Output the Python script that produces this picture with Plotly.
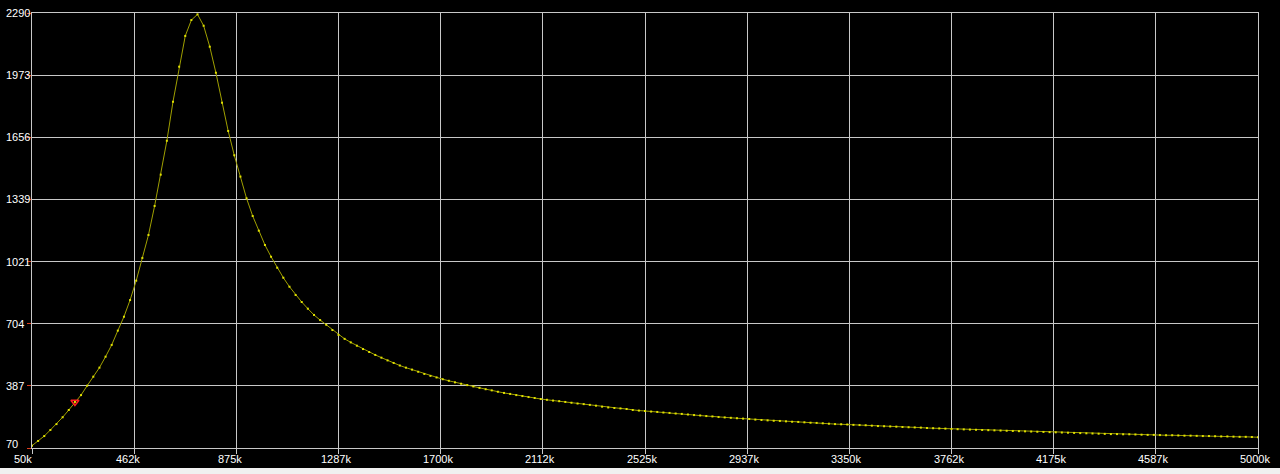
import plotly.graph_objects as go

# Frequency sweep (kHz): start, stop; one reading per sweep step
START_K = 50.0
STOP_K = 5000.0

values = [
    82, 106, 131, 162, 192, 227, 264, 305, 340, 388,
    434, 480, 536, 596, 669, 740, 825, 924, 1040, 1157,
    1305, 1465, 1638, 1837, 2016, 2173, 2254, 2283, 2225, 2118,
    1985, 1832, 1688, 1564, 1455, 1344, 1254, 1179, 1106, 1046,
    990, 939, 893, 851, 815, 781, 749, 723, 699, 672,
    647, 627, 609, 592, 575, 560, 545, 531, 517, 504,
    491, 480, 470, 459, 448, 438, 430, 421, 413, 405,
    398, 391, 384, 377, 370, 364, 357, 351, 346, 340,
    335, 330, 325, 320, 316, 312, 309, 305, 301, 297,
    294, 290, 286, 281, 277, 274, 272, 269, 264, 261,
    259, 256, 254, 251, 249, 246, 244, 241, 238, 236,
    233, 231, 228, 226, 224, 222, 220, 218, 215, 213,
    211, 209, 208, 206, 204, 203, 201, 199, 198, 196,
    194, 192, 191, 190, 188, 187, 186, 184, 182, 181,
    180, 179, 177, 176, 175, 174, 172, 171, 170, 169,
    167, 166, 165, 164, 163, 162, 161, 160, 159, 158,
    157, 156, 155, 154, 153, 152, 151, 150, 149, 148,
    147, 146, 145, 144, 143, 142, 141, 141, 140, 140,
    139, 138, 137, 137, 136, 135, 135, 134, 133, 133,
    132, 131, 131, 130, 129, 129, 128, 127, 127, 126,
    125,
]

n_steps = len(values) - 1
freq_k = [START_K + (STOP_K - START_K) * i / n_steps for i in range(len(values))]

# Cursor marker (sweep step index)
cursor_index = 7

# Axis ticks and labels
x_tickvals = [50, 462.5, 875, 1287.5, 1700, 2112.5, 2525, 2937.5, 3350, 3762.5, 4175, 4587.5, 5000]
x_ticktext = ["50k", "462k", "875k", "1287k", "1700k", "2112k", "2525k", "2937k",
              "3350k", "3762k", "4175k", "4587k", "5000k"]
y_tickvals = [70, 387.142857, 704.285714, 1021.428571, 1338.571429, 1655.714286, 1972.857143, 2290]
y_ticktext = ["70", "387", "704", "1021", "1339", "1656", "1973", "2290"]

GRID = "#c8c8c8"
FONT = dict(family="Liberation Sans, Arial, sans-serif", size=11, color="#ffffff")

fig = go.Figure()
fig.add_trace(go.Scatter(
    x=freq_k, y=values, mode="lines+markers",
    line=dict(color="#a0a000", width=1),
    marker=dict(symbol="square", size=2, color="#e0e000", line=dict(width=0)),
    hoverinfo="x+y", showlegend=False,
))
fig.add_trace(go.Scatter(
    x=[freq_k[cursor_index]], y=[values[cursor_index]], mode="markers",
    marker=dict(symbol="triangle-down-open", size=7, color="#ff2020", line=dict(width=1.5, color="#ff2020")),
    showlegend=False,
))

annotations = []
for v, t in zip(x_tickvals, x_ticktext):
    annotations.append(dict(x=v, xref="x", y=0, yref="paper", text=t, showarrow=False,
                            xanchor="left", yanchor="middle", xshift=-20, yshift=-11, font=FONT))
for v, t in zip(y_tickvals, y_ticktext):
    annotations.append(dict(x=0, xref="paper", y=v, yref="y", text=t, showarrow=False,
                            xanchor="left", yanchor="middle", xshift=-28,
                            yshift=4 if v == 70 else 0, font=FONT))

fig.update_layout(
    width=1280, height=474,
    margin=dict(l=32, r=22, t=13, b=26, pad=0),
    paper_bgcolor="#000000", plot_bgcolor="#000000",
    annotations=annotations,
    shapes=[dict(type="rect", xref="paper", yref="paper", x0=-0.05, x1=1.05,
                 y0=-0.08, y1=-0.046, fillcolor="#f0f0f0", line=dict(width=0), layer="above")],
)
fig.update_xaxes(
    range=[START_K, STOP_K], tickvals=x_tickvals, showticklabels=False,
    showgrid=True, gridcolor=GRID, gridwidth=1, zeroline=False,
    showline=True, linecolor=GRID, linewidth=1, mirror=True,
    ticks="outside", ticklen=5, tickcolor=GRID, tickwidth=1,
)
fig.update_yaxes(
    range=[70, 2290], tickvals=y_tickvals, showticklabels=False,
    showgrid=True, gridcolor=GRID, gridwidth=1, zeroline=False,
    showline=True, linecolor=GRID, linewidth=1, mirror=True,
    ticks="outside", ticklen=4, tickcolor="#e04020", tickwidth=1,
)

fig.write_html(
    "out.html",
    config={"displayModeBar": False},
    post_script="document.body.style.margin='0';document.body.style.background='#000';",
)
